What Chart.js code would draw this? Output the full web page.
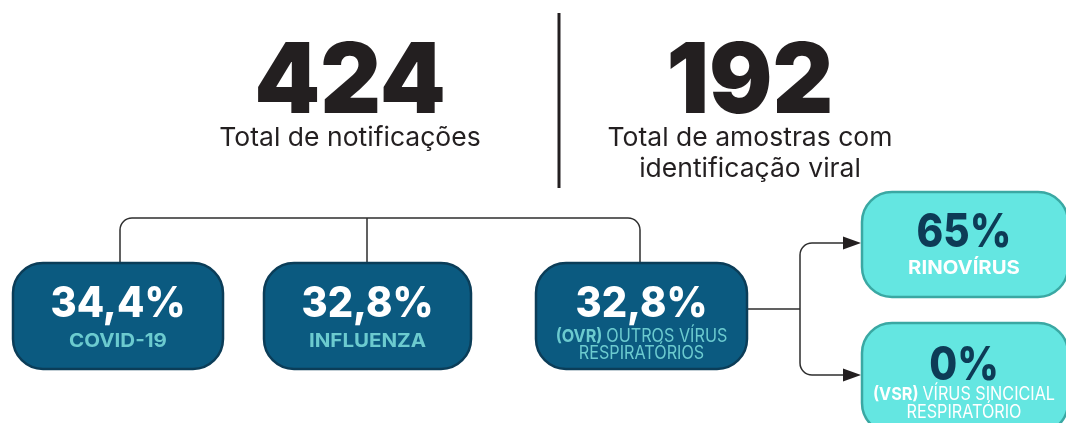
<!DOCTYPE html>
<html><head><meta charset="utf-8">
<script src="https://cdn.jsdelivr.net/npm/chart.js@4"></script>
<style>html,body{margin:0;padding:0;background:#fff;}canvas{display:block}</style>
</head><body>
<div style="width:1066px;height:423px"><canvas id="c" width="1066" height="423"></canvas></div>
<script>
// ---- data ----
const totals = [424, 192];
const totalLabels = [['Total de notificações'], ['Total de amostras com', 'identificação viral']];
const mainPrefixes = ['', '', '(OVR)'];
const mainCategories = [['COVID-19'], ['INFLUENZA'], ['OUTROS VÍRUS', 'RESPIRATÓRIOS']];
const mainPercents = [34.4, 32.8, 32.8];
const subPrefixes = ['', '(VSR)'];
const subCategories = [['RINOVÍRUS'], ['VÍRUS SINCICIAL', 'RESPIRATÓRIO']];
const subPercents = [65, 0];

// ---- layout (positions in scale units) ----
const totalCenters = [350, 750];
const mainBoxes = [{x:13,y:263,w:210,h:106},{x:264,y:263,w:207,h:106},{x:536,y:263,w:211,h:106}];
const mainStemX = [120, 367, 640];
const subBoxes = [{x:862,y:192,w:206,h:105},{x:862,y:323,w:206,h:110}];

const fmtPct = v => (Number.isInteger(v) ? String(v) : v.toFixed(1).replace('.', ',')) + '%';

const infographic = {
  id: 'infographic',
  afterDatasetsDraw(chart) {
    const ctx = chart.ctx;
    const X = v => chart.scales.x.getPixelForValue(v);
    const Y = v => chart.scales.y.getPixelForValue(v);

    function rr(x, y, w, h, r) {
      const x0 = X(x), y0 = Y(y), x1 = X(x + w), y1 = Y(y + h);
      ctx.beginPath();
      ctx.moveTo(x0 + r, y0);
      ctx.lineTo(x1 - r, y0); ctx.arcTo(x1, y0, x1, y0 + r, r);
      ctx.lineTo(x1, y1 - r); ctx.arcTo(x1, y1, x1 - r, y1, r);
      ctx.lineTo(x0 + r, y1); ctx.arcTo(x0, y1, x0, y1 - r, r);
      ctx.lineTo(x0, y0 + r); ctx.arcTo(x0, y0, x0 + r, y0, r);
      ctx.closePath();
    }
    function text(t, cx, by, font, color, sx) {
      ctx.save();
      ctx.font = font; ctx.fillStyle = color; ctx.textAlign = 'center'; ctx.textBaseline = 'alphabetic';
      ctx.translate(X(cx), Y(by)); ctx.scale(sx || 1, 1);
      ctx.fillText(t, 0, 0);
      ctx.restore();
    }
    function mixed(prefix, rest, cx, by, boldFont, regFont, color, sx) {
      ctx.save();
      ctx.fillStyle = color; ctx.textBaseline = 'alphabetic'; ctx.textAlign = 'left';
      ctx.font = boldFont; const wp = prefix ? ctx.measureText(prefix + ' ').width : 0;
      ctx.font = regFont; const wr = ctx.measureText(rest).width;
      ctx.translate(X(cx), Y(by)); ctx.scale(sx || 1, 1);
      const start = -(wp + wr) / 2;
      if (prefix) { ctx.font = boldFont; ctx.fillText(prefix + ' ', start, 0); }
      ctx.font = regFont; ctx.fillText(rest, start + wp, 0);
      ctx.restore();
    }

    // totals
    totals.forEach((v, i) => {
      text(String(v), totalCenters[i], 113, '900 97px Inter', '#231f20', 0.97);
      totalLabels[i].forEach((l, j) => text(l, totalCenters[i], 146 + j * 31, '400 26px Inter', '#231f20', 1.02));
    });
    // separator
    ctx.save();
    ctx.strokeStyle = '#231f20'; ctx.lineWidth = 3;
    ctx.beginPath(); ctx.moveTo(X(559), Y(13)); ctx.lineTo(X(559), Y(188)); ctx.stroke();
    ctx.restore();

    // connectors
    ctx.save();
    ctx.strokeStyle = '#2e2e2e'; ctx.lineWidth = 1.5; ctx.lineJoin = 'round';
    const topY = 218, r = 12;
    ctx.beginPath();
    ctx.moveTo(X(mainStemX[0]), Y(263));
    ctx.arcTo(X(mainStemX[0]), Y(topY), X(mainStemX[1]), Y(topY), r);
    ctx.arcTo(X(mainStemX[2]), Y(topY), X(mainStemX[2]), Y(263), r);
    ctx.lineTo(X(mainStemX[2]), Y(263));
    ctx.moveTo(X(mainStemX[1]), Y(topY)); ctx.lineTo(X(mainStemX[1]), Y(263));
    ctx.stroke();
    // branch to sub boxes
    const bx = 800, midY = 309, ys = [243, 375];
    ctx.beginPath();
    ctx.moveTo(X(747), Y(midY)); ctx.lineTo(X(bx), Y(midY));
    ctx.moveTo(X(845), Y(ys[0]));
    ctx.arcTo(X(bx), Y(ys[0]), X(bx), Y(ys[1]), r);
    ctx.arcTo(X(bx), Y(ys[1]), X(845), Y(ys[1]), r);
    ctx.lineTo(X(845), Y(ys[1]));
    ctx.stroke();
    ctx.fillStyle = '#231f20';
    ys.forEach(y => {
      ctx.beginPath();
      ctx.moveTo(X(861), Y(y)); ctx.lineTo(X(843), Y(y - 6.5)); ctx.lineTo(X(843), Y(y + 6.5));
      ctx.closePath(); ctx.fill();
    });
    ctx.restore();

    // main boxes
    mainPercents.forEach((p, i) => {
      const b = mainBoxes[i];
      ctx.save();
      rr(b.x, b.y, b.w, b.h, 30);
      ctx.fillStyle = '#0b5a80'; ctx.fill();
      ctx.lineWidth = 2.5; ctx.strokeStyle = '#0b3d58'; ctx.stroke();
      ctx.restore();
      const cx = b.x + b.w / 2;
      const lines = mainCategories[i];
      text(fmtPct(p), cx, 317, '800 42px Inter', '#ffffff', 0.95);
      if (lines.length === 1) {
        text(lines[0], cx, 347, '700 19px Inter', '#6ccbcf', 1.08);
      } else {
        mixed(mainPrefixes[i], lines[0], cx, 342, '700 18px Inter', '400 18px Inter', '#6ccbcf', 0.9);
        text(lines[1], cx, 359, '400 18px Inter', '#6ccbcf', 0.9);
      }
    });

    // sub boxes
    subPercents.forEach((p, i) => {
      const b = subBoxes[i];
      ctx.save();
      rr(b.x, b.y, b.w, b.h, 30);
      ctx.fillStyle = '#64e6e1'; ctx.fill();
      ctx.lineWidth = 2.5; ctx.strokeStyle = '#3aa8a3'; ctx.stroke();
      ctx.restore();
      const cx = 964;
      const lines = subCategories[i];
      if (lines.length === 1) {
        text(fmtPct(p), cx, b.y + 55, '800 46px Inter', '#0d3b56', 0.88);
        text(lines[0], cx, b.y + 82, '700 19px Inter', '#ffffff', 1.07);
      } else {
        text(fmtPct(p), cx, b.y + 57, '800 46px Inter', '#0d3b56', 0.88);
        mixed(subPrefixes[i], lines[0], cx, b.y + 77, '700 18px Inter', '400 18px Inter', '#ffffff', 0.9);
        text(lines[1], cx, b.y + 95, '400 18px Inter', '#ffffff', 0.9);
      }
    });
  }
};

new Chart(document.getElementById('c'), {
  type: 'scatter',
  data: { datasets: [{ data: [], pointRadius: 0 }] },
  options: {
    responsive: false, animation: false, events: [],
    layout: { padding: 0 },
    plugins: { legend: { display: false }, tooltip: { enabled: false }, title: { display: false } },
    scales: {
      x: { type: 'linear', min: 0, max: 1066, display: false },
      y: { type: 'linear', min: 0, max: 423, reverse: true, display: false }
    }
  },
  plugins: [infographic]
});
</script>
</body></html>
